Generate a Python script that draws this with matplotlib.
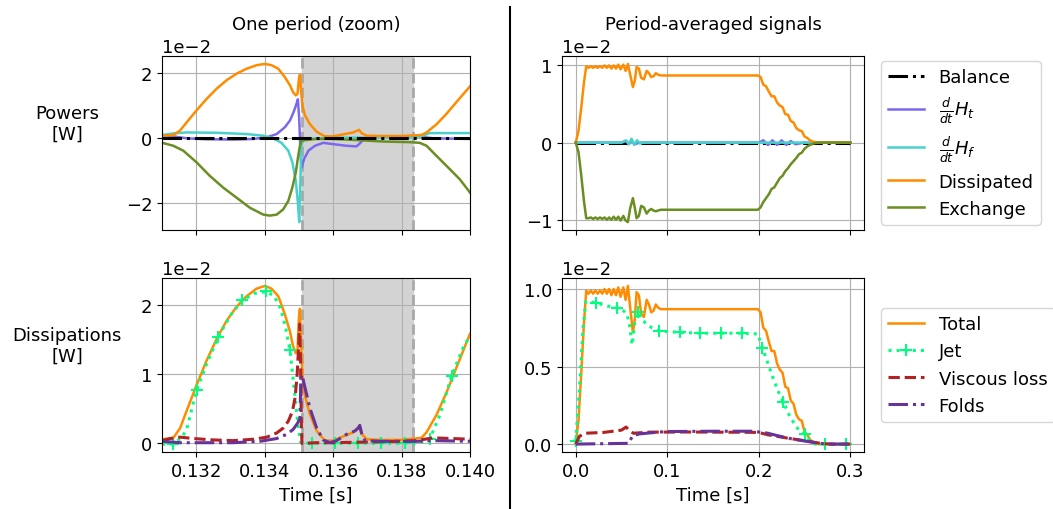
import numpy as np
import matplotlib.pyplot as plt
from matplotlib.lines import Line2D

plt.rcParams['font.size'] = 13

# ---- one period (zoom), values in 1e-2 W ----
zoom_xlim = (0.131, 0.140)
shade_start, shade_end = 0.13508, 0.13832

zt_diss = [0.13101, 0.13133, 0.13153, 0.13172, 0.13201, 0.13230, 0.13260, 0.13289,
           0.13318, 0.13347, 0.13376, 0.13401, 0.13420, 0.13440, 0.13459, 0.13474,
           0.13483, 0.13491, 0.13496, 0.13500, 0.13503, 0.13506, 0.13510, 0.13518,
           0.13532, 0.13552, 0.13576, 0.13600, 0.13629, 0.13659, 0.13670, 0.13676,
           0.13683, 0.13698, 0.13746, 0.13795, 0.13858, 0.13873, 0.13902, 0.13931,
           0.13960, 0.14000]
zoom_dissipated = [0.06, 0.08, 0.22, 0.47, 0.84, 1.19, 1.51, 1.77, 1.97, 2.12, 2.23, 2.27,
                   2.23, 2.12, 1.86, 1.61, 1.40, 1.30, 1.35, 1.81, 1.94, 1.51, 0.99, 0.68,
                   0.42, 0.18, 0.04, 0.04, 0.10, 0.16, 0.21, 0.24, 0.14, 0.06, 0.05, 0.05,
                   0.08, 0.16, 0.41, 0.73, 1.09, 1.58]

zt_exch = [0.13101, 0.13133, 0.13162, 0.13201, 0.13240, 0.13279, 0.13318, 0.13357,
           0.13396, 0.13415, 0.13435, 0.13454, 0.13469, 0.13481, 0.13491, 0.13498,
           0.13503, 0.13508, 0.13552, 0.13600, 0.13678, 0.13746, 0.13824, 0.13853,
           0.13873, 0.13902, 0.13941, 0.13970, 0.14000]
zoom_exchange = [-0.16, -0.25, -0.40, -0.76, -1.18, -1.54, -1.85, -2.16, -2.37, -2.40,
                 -2.37, -2.21, -1.95, -1.53, -1.07, -0.56, -0.25, -0.09, -0.04, -0.04,
                 -0.08, -0.12, -0.14, -0.16, -0.25, -0.56, -0.97, -1.28, -1.69]

zt_dht = [0.13101, 0.13133, 0.13172, 0.13230, 0.13308, 0.13367, 0.13406, 0.13435,
          0.13459, 0.13474, 0.13485, 0.13493, 0.13497, 0.13501, 0.13505, 0.13508,
          0.13515, 0.13528, 0.13547, 0.13571, 0.13600, 0.13639, 0.13668, 0.13676,
          0.13683, 0.13693, 0.13717, 0.13795, 0.13853, 0.13892, 0.14000]
zoom_dht = [0.08, 0.04, -0.02, -0.05, -0.06, -0.04, 0.01, 0.11, 0.32, 0.53, 0.80, 1.04,
            1.18, 0.58, -0.56, -0.92, -0.66, -0.40, -0.25, -0.16, -0.20, -0.25, -0.27,
            -0.20, -0.12, -0.02, 0.03, 0.04, 0.03, -0.02, -0.04]

zt_dhf = [0.13101, 0.13133, 0.13172, 0.13260, 0.13347, 0.13396, 0.13425, 0.13449,
          0.13469, 0.13481, 0.13491, 0.13497, 0.13501, 0.13504, 0.13507, 0.13513,
          0.13600, 0.13698, 0.13843, 0.13863, 0.13882, 0.13912, 0.14000]
zoom_dhf = [0.08, 0.13, 0.16, 0.15, 0.11, 0.06, -0.02, -0.16, -0.40, -0.76, -1.33, -2.00,
            -2.60, -1.48, -0.25, -0.04, 0.00, 0.00, 0.00, 0.06, 0.14, 0.14, 0.14]

zt_bal = [0.131, 0.140]
zoom_balance = [0.0, 0.0]

zt_jet = [0.13101, 0.13131, 0.13157, 0.13172, 0.13201, 0.13230, 0.13265, 0.13299,
          0.13334, 0.13369, 0.13403, 0.13427, 0.13447, 0.13462, 0.13474, 0.13486,
          0.13496, 0.13504, 0.13509, 0.13537, 0.13605, 0.13673, 0.13741, 0.13809,
          0.13843, 0.13863, 0.13882, 0.13912, 0.13946, 0.13980, 0.14000]
zoom_jet = [-0.01, -0.01, 0.08, 0.20, 0.77, 1.14, 1.54, 1.84, 2.06, 2.16, 2.19, 2.13,
            1.94, 1.65, 1.34, 0.80, 0.32, 0.03, 0.00, 0.00, 0.00, 0.00, 0.00, 0.00,
            0.00, 0.03, 0.06, 0.41, 0.97, 1.38, 1.55]
zoom_jet_marks = [0.13131, 0.13201, 0.13265, 0.13334, 0.13403, 0.13474, 0.13537,
                  0.13605, 0.13673, 0.13741, 0.13809, 0.13882, 0.13946]

zt_visc = [0.13101, 0.13124, 0.13153, 0.13192, 0.13250, 0.13308, 0.13367, 0.13406,
           0.13435, 0.13454, 0.13469, 0.13481, 0.13489, 0.13495, 0.13499, 0.13502,
           0.13505, 0.13507, 0.13509, 0.13552, 0.13600, 0.13698, 0.13795, 0.13843,
           0.13892, 0.13950, 0.14000]
zoom_viscous = [0.04, 0.07, 0.09, 0.07, 0.05, 0.04, 0.06, 0.09, 0.15, 0.22, 0.32, 0.46,
                0.66, 1.00, 1.38, 1.72, 1.14, 0.32, 0.00, 0.01, 0.01, 0.02, 0.03, 0.04,
                0.08, 0.07, 0.06]

zt_folds = [0.13101, 0.13153, 0.13211, 0.13308, 0.13386, 0.13435, 0.13464, 0.13483,
            0.13496, 0.13503, 0.13506, 0.13509, 0.13518, 0.13532, 0.13552, 0.13571,
            0.13591, 0.13610, 0.13639, 0.13664, 0.13673, 0.13678, 0.13684, 0.13693,
            0.13746, 0.13843, 0.13892, 0.14000]
zoom_folds = [0.03, 0.01, 0.01, 0.01, 0.03, 0.07, 0.13, 0.20, 0.29, 0.36, 0.94, 0.99,
              0.80, 0.51, 0.22, 0.05, 0.01, 0.04, 0.13, 0.18, 0.22, 0.26, 0.13, 0.04,
              0.03, 0.03, 0.04, 0.03]

# ---- period-averaged signals, values in 1e-2 W ----
at_diss = [0.000, 0.003, 0.006, 0.009, 0.0115, 0.014, 0.0165, 0.019, 0.0215, 0.024,
           0.0265, 0.029, 0.0315, 0.034, 0.0365, 0.039, 0.0415, 0.044, 0.0465, 0.049,
           0.052, 0.0545, 0.057, 0.0595, 0.0625, 0.0645, 0.0665, 0.069, 0.0715, 0.0745,
           0.0775, 0.080, 0.0825, 0.085, 0.0875, 0.090, 0.093, 0.100, 0.150, 0.199,
           0.202, 0.205, 0.208, 0.211, 0.214, 0.217, 0.220, 0.223, 0.226, 0.229, 0.232,
           0.235, 0.238, 0.241, 0.244, 0.247, 0.250, 0.253, 0.256, 0.260, 0.265, 0.300]
avg_dissipated = [0.00, 0.15, 0.45, 0.78, 0.99, 0.97, 0.99, 0.97, 0.99, 0.97, 0.99, 0.97,
                  1.00, 0.97, 1.00, 0.96, 1.00, 0.96, 1.01, 0.95, 1.01, 0.93, 1.02, 0.88,
                  0.72, 0.80, 0.98, 0.96, 0.84, 0.82, 0.93, 0.90, 0.85, 0.86, 0.90, 0.88,
                  0.87, 0.87, 0.87, 0.87, 0.85, 0.75, 0.73, 0.66, 0.60, 0.60, 0.52, 0.48,
                  0.46, 0.37, 0.36, 0.28, 0.26, 0.19, 0.16, 0.15, 0.08, 0.06, 0.03, 0.01,
                  0.00, 0.00]
avg_exchange = [0.00, -0.12, -0.42, -0.76, -0.98, -0.98, -0.97, -0.99, -0.97, -0.99,
                -0.97, -0.99, -0.97, -1.00, -0.97, -1.00, -0.96, -1.00, -0.96, -1.01,
                -0.95, -1.01, -1.03, -0.85, -0.72, -0.84, -0.98, -0.95, -0.82, -0.84,
                -0.92, -0.88, -0.86, -0.88, -0.89, -0.88, -0.87, -0.87, -0.87, -0.87,
                -0.84, -0.77, -0.72, -0.67, -0.60, -0.58, -0.52, -0.46, -0.43, -0.37,
                -0.33, -0.28, -0.24, -0.20, -0.15, -0.13, -0.08, -0.05, -0.03, -0.01,
                0.00, 0.00]
at_dht = [0.0, 0.05, 0.055, 0.058, 0.061, 0.064, 0.07, 0.2, 0.205, 0.21, 0.215, 0.22,
          0.225, 0.23, 0.235, 0.24, 0.25, 0.3]
avg_dht = [0, 0, 0.02, -0.02, 0.03, -0.02, 0, 0, 0.03, -0.03, 0.03, -0.03, 0.03, -0.03,
           0.02, -0.02, 0, 0]
at_dhf = [0.0, 0.05, 0.055, 0.058, 0.061, 0.064, 0.067, 0.07, 0.075, 0.3]
avg_dhf = [0, 0, 0.03, -0.02, 0.05, -0.03, 0.03, -0.01, 0, 0]
at_bal = [0.0, 0.3]
avg_balance = [0.0, 0.0]

at_jet = [0.000, 0.004, 0.008, 0.011, 0.0227, 0.035, 0.0454, 0.052, 0.056, 0.059,
          0.0615, 0.063, 0.065, 0.068, 0.073, 0.080, 0.0908, 0.1135, 0.136, 0.159,
          0.182, 0.199, 0.204, 0.210, 0.216, 0.222, 0.227, 0.233, 0.239, 0.245, 0.250,
          0.256, 0.262, 0.272, 0.295, 0.300]
avg_jet = [0.02, 0.35, 0.75, 0.92, 0.91, 0.89, 0.88, 0.86, 0.84, 0.76, 0.64, 0.70, 0.82,
           0.85, 0.80, 0.76, 0.73, 0.72, 0.715, 0.715, 0.715, 0.71, 0.62, 0.52, 0.42,
           0.33, 0.27, 0.19, 0.13, 0.08, 0.066, 0.02, 0.00, 0.00, 0.00, 0.00]
avg_jet_marks = [0.000, 0.0227, 0.0454, 0.068, 0.0908, 0.1135, 0.136, 0.159, 0.182,
                 0.204, 0.227, 0.250, 0.272, 0.295]

at_visc = [0, 0.004, 0.010, 0.030, 0.050, 0.055, 0.059, 0.063, 0.080, 0.120, 0.190,
           0.200, 0.210, 0.220, 0.235, 0.250, 0.260, 0.270, 0.280, 0.300]
avg_viscous = [0, 0.05, 0.07, 0.075, 0.09, 0.11, 0.085, 0.07, 0.077, 0.078, 0.076, 0.075,
               0.06, 0.05, 0.035, 0.022, 0.012, 0.003, 0.0, 0.0]
at_folds = [0, 0.058, 0.0605, 0.0625, 0.070, 0.090, 0.100, 0.150, 0.193, 0.200, 0.210,
            0.220, 0.235, 0.250, 0.265, 0.275, 0.300]
avg_folds = [0, 0.005, 0.035, 0.055, 0.066, 0.077, 0.081, 0.083, 0.083, 0.078, 0.07,
             0.055, 0.035, 0.02, 0.006, 0.0, 0.0]

scale = 1e-2
lw = 1.8

fig = plt.figure(figsize=(10.53, 5.10), dpi=100)
ax_pz = fig.add_axes([0.15385, 0.54706, 0.29250, 0.34118])
ax_dz = fig.add_axes([0.15385, 0.11176, 0.29250, 0.34118], sharex=ax_pz)
ax_pa = fig.add_axes([0.53371, 0.54706, 0.28680, 0.34118])
ax_da = fig.add_axes([0.53371, 0.11176, 0.28680, 0.34118], sharex=ax_pa)


def sc(v):
    return np.asarray(v) * scale


def powers(ax, tb, b, tt, ht, tf, hf, td, d, te, e, bal_z):
    ax.plot(tb, sc(b), color='black', ls='-.', lw=2.2, zorder=bal_z, label='Balance')
    ax.plot(tt, sc(ht), color='mediumslateblue', lw=lw, label=r'$\frac{d}{dt}H_t$')
    ax.plot(tf, sc(hf), color='mediumturquoise', lw=lw, label=r'$\frac{d}{dt}H_f$')
    ax.plot(td, sc(d), color='darkorange', lw=lw, label='Dissipated')
    ax.plot(te, sc(e), color='olivedrab', lw=lw, label='Exchange')


def dissip(ax, tt, tot, tj, jet, marks, tv, visc, tfo, folds):
    ax.plot(tt, sc(tot), color='darkorange', lw=lw, label='Total')
    mask = np.isin(tj, marks)
    ax.plot(tj, sc(jet), color='springgreen', ls=':', lw=2.2, marker='+', ms=9, mew=1.5,
            markevery=list(mask), label='Jet')
    ax.plot(tv, sc(visc), color='firebrick', ls='--', lw=2.2, label='Viscous loss')
    ax.plot(tfo, sc(folds), color='rebeccapurple', ls='-.', lw=2.2, label='Folds')


powers(ax_pz, zt_bal, zoom_balance, zt_dht, zoom_dht, zt_dhf, zoom_dhf,
       zt_diss, zoom_dissipated, zt_exch, zoom_exchange, 3)
dissip(ax_dz, zt_diss, zoom_dissipated, zt_jet, zoom_jet, zoom_jet_marks,
       zt_visc, zoom_viscous, zt_folds, zoom_folds)
powers(ax_pa, at_bal, avg_balance, at_dht, avg_dht, at_dhf, avg_dhf,
       at_diss, avg_dissipated, at_diss, avg_exchange, 2)
dissip(ax_da, at_diss, avg_dissipated, at_jet, avg_jet, avg_jet_marks,
       at_visc, avg_viscous, at_folds, avg_folds)

for ax in (ax_pz, ax_dz):
    ax.axvspan(shade_start, shade_end, color='lightgray', zorder=0)
    for x in (shade_start, shade_end):
        ax.axvline(x, color='darkgray', ls='--', lw=2, zorder=1)
ax_pz.set_xlim(*zoom_xlim)
ax_dz.set_xticks([0.132, 0.134, 0.136, 0.138, 0.140])
ax_dz.set_xticklabels(['0.132', '0.134', '0.136', '0.138', '0.140'])

for ax in (ax_pz, ax_dz, ax_pa, ax_da):
    ax.grid(True)
    ax.ticklabel_format(axis='y', style='sci', scilimits=(0, 0))
for ax in (ax_pz, ax_pa):
    ax.tick_params(labelbottom=False)
for ax in (ax_dz, ax_da):
    ax.set_xlabel('Time [s]')

ax_pa.legend(loc='center left', bbox_to_anchor=(1.056, 0.5), borderaxespad=0)
ax_da.legend(loc='center left', bbox_to_anchor=(1.056, 0.5), borderaxespad=0)

fig.text(316 / 1053, 1 - 25 / 510, 'One period (zoom)', ha='center', va='center')
fig.text(713 / 1053, 1 - 25 / 510, 'Period-averaged signals', ha='center', va='center')
fig.text(67 / 1053, 1 - 144 / 510, 'Powers\n[W]', ha='center', va='bottom',
         multialignment='center')
fig.text(67 / 1053, 1 - 366 / 510, 'Dissipations\n[W]', ha='center', va='bottom',
         multialignment='center')
fig.add_artist(Line2D([510 / 1053, 510 / 1053], [0, 1 - 8 / 510], color='black', lw=1.5))

fig.savefig('out.png', dpi=100)
